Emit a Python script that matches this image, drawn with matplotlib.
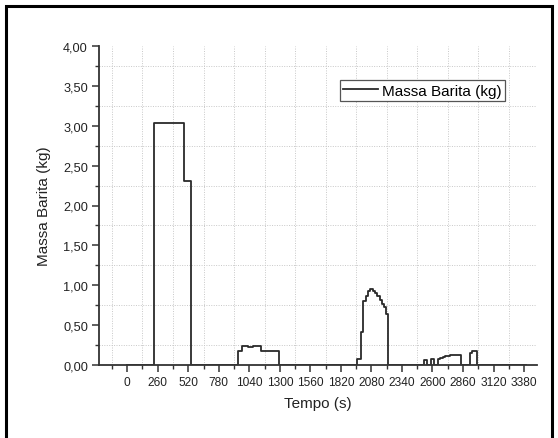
import matplotlib
matplotlib.use("Agg")
import matplotlib.pyplot as plt
from matplotlib.ticker import FixedLocator, FuncFormatter, MultipleLocator
from matplotlib.patches import Rectangle

plt.rcParams['font.family'] = ['Liberation Sans', 'DejaVu Sans']

# Mass of barite over time (step series: value holds until next time point)
tempo_s = [0, 230, 487, 540,
           945, 975, 1030, 1070, 1140, 1180, 1240, 1290,
           1960, 1990, 2010, 2030, 2050, 2070, 2090, 2110, 2130, 2150,
           2170, 2190, 2200, 2222,
           2525, 2549, 2590, 2610, 2650, 2665, 2690, 2710, 2745, 2790, 2840,
           2920, 2940, 2975, 3400]
massa_kg = [0.00, 3.03, 2.31, 0.00,
            0.18, 0.24, 0.23, 0.235, 0.18, 0.17, 0.175, 0.00,
            0.07, 0.41, 0.80, 0.87, 0.93, 0.95, 0.93, 0.90, 0.86, 0.81,
            0.76, 0.73, 0.64, 0.00,
            0.06, 0.00, 0.07, 0.00, 0.07, 0.09, 0.10, 0.11, 0.12, 0.13, 0.00,
            0.15, 0.17, 0.00, 0.00]

x_ticks = list(range(0, 3381, 260))
y_ticks = [0.0, 0.5, 1.0, 1.5, 2.0, 2.5, 3.0, 3.5, 4.0]

fig = plt.figure(figsize=(5.58, 4.39), dpi=100)
ax = fig.add_axes([99 / 558, 1 - 366 / 439, 438 / 558, 319 / 439])

ax.plot(tempo_s, massa_kg, drawstyle='steps-post', color='#2a2a2a',
        lw=1.3, label='Massa Barita (kg)')

ax.set_xlim(-240, 3490)
ax.set_ylim(0, 4.0)

ax.xaxis.set_major_locator(FixedLocator(x_ticks))
ax.xaxis.set_minor_locator(FixedLocator([t + 130 for t in range(-260, 3381, 260)]))
ax.yaxis.set_major_locator(FixedLocator(y_ticks))
ax.yaxis.set_minor_locator(MultipleLocator(0.25))
ax.yaxis.set_major_formatter(FuncFormatter(lambda v, p: f"{v:.2f}".replace('.', ',')))

ax.grid(which='minor', color='#c8c8c8', linestyle=(0, (1, 1.5)), lw=0.7)
ax.grid(which='major', visible=False)

for side in ('top', 'right'):
    ax.spines[side].set_visible(False)
for side in ('left', 'bottom'):
    ax.spines[side].set_linewidth(1.3)
    ax.spines[side].set_color('#333333')

ax.tick_params(which='major', direction='out', length=5, width=1.1,
               color='#333333', labelcolor='#222222', pad=3)
ax.tick_params(which='minor', direction='out', length=3, width=1.0,
               color='#333333')
ax.tick_params(axis='x', which='major', labelsize=8.6)
ax.tick_params(axis='y', which='major', labelsize=9.2)

ax.set_xlabel('Tempo (s)', fontsize=11, color='#222222', labelpad=6)
ax.set_ylabel('Massa Barita (kg)', fontsize=11, color='#222222', labelpad=9)

leg = ax.legend(loc='upper right', bbox_to_anchor=(0.927, 0.892),
                fontsize=11, frameon=True, fancybox=False, handlelength=2.3,
                handletextpad=0.3, borderpad=0.2, borderaxespad=0)
leg.get_frame().set_edgecolor('#555555')
leg.get_frame().set_linewidth(0.9)
leg.get_frame().set_facecolor('white')
leg.get_frame().set_alpha(1)

# Black frame around the whole figure
fig.patches.append(Rectangle((6 / 558, -0.05), 546 / 558, 1.05 - 7 / 439,
                             transform=fig.transFigure, fill=False,
                             edgecolor='black', lw=2.2, clip_on=False))

fig.savefig('out.png', dpi=100)
